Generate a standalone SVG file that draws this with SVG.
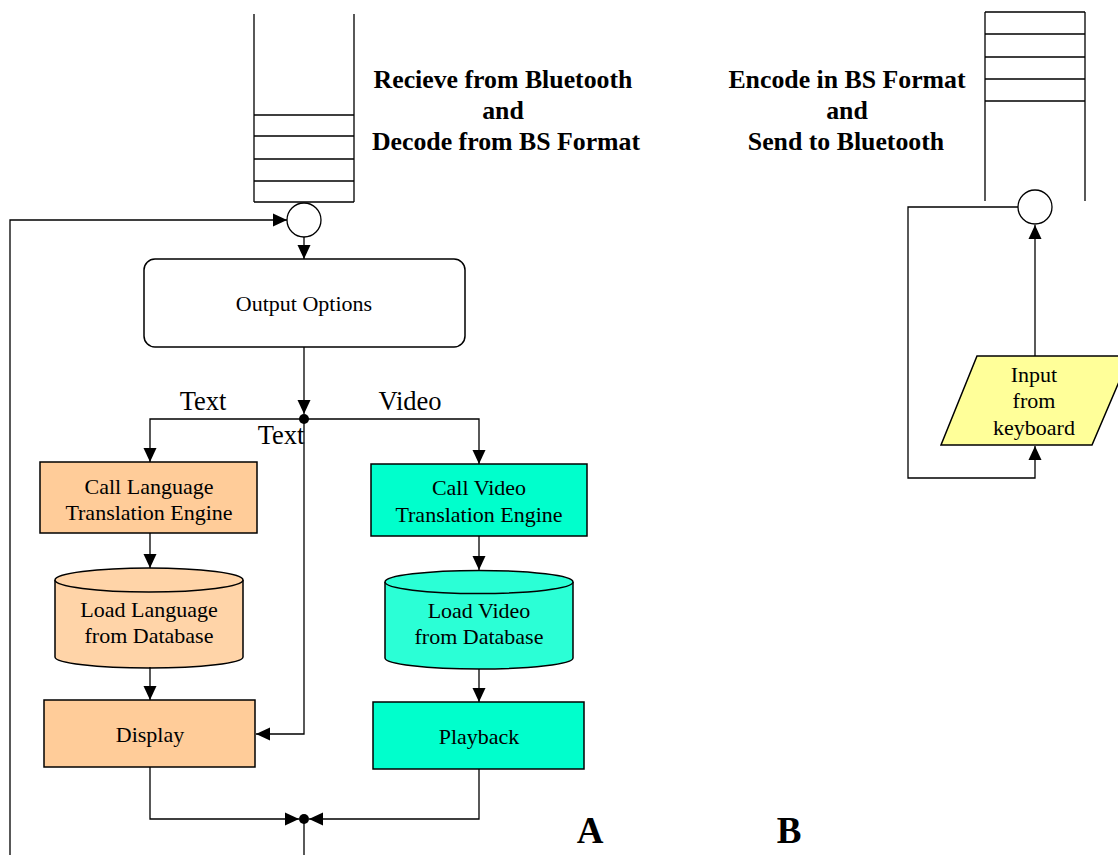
<svg xmlns="http://www.w3.org/2000/svg" width="1118" height="855" viewBox="0 0 1118 855">
<style>
.ln{fill:none;stroke:#000;stroke-width:1.3}
.box{stroke:#000;stroke-width:1.5}
.t{font-family:"Liberation Serif","Times New Roman",serif;font-size:22px;text-anchor:middle;fill:#000}
.lb{font-family:"Liberation Serif","Times New Roman",serif;font-size:26.5px;text-anchor:middle;fill:#000}
.h{font-family:"Liberation Serif","Times New Roman",serif;font-size:25.8px;font-weight:bold;text-anchor:middle;fill:#000}
.big{font-family:"Liberation Serif","Times New Roman",serif;font-size:37px;font-weight:bold;text-anchor:middle;fill:#000}
</style>
<defs>
<marker id="ah" markerUnits="userSpaceOnUse" markerWidth="15" markerHeight="15" viewBox="0 0 15 15" refX="14" refY="7.5" orient="auto">
<path d="M0,1 L14,7.5 L0,14 Z" fill="#000"/>
</marker>
</defs>
<rect width="1118" height="855" fill="#fff"/>

<g id="stackA">
<path class="ln" d="M254,14 V202 M354,14 V202 M254,115 H354 M254,136 H354 M254,159 H354 M254,181 H354 M254,202 H354"/>
</g>
<g id="mergeA">
<circle cx="304" cy="220" r="17" fill="#fff" stroke="#000" stroke-width="1.3"/>
</g>
<g id="headerA">
<text class="h" x="503" y="88">Recieve from Bluetooth</text>
<text class="h" x="503" y="119">and</text>
<text class="h" x="506" y="150">Decode from BS Format</text>
</g>
<g id="headerB">
<text class="h" x="847" y="88">Encode in BS Format</text>
<text class="h" x="847" y="119">and</text>
<text class="h" x="846" y="150">Send to Bluetooth</text>
</g>
<g id="stackB">
<path class="ln" d="M985,12 V201 M1085,12 V201 M985,12 H1085 M985,34 H1085 M985,57 H1085 M985,79 H1085 M985,101 H1085"/>
</g>
<g id="mergeB">
<circle cx="1035" cy="207" r="17" fill="#fff" stroke="#000" stroke-width="1.3"/>
</g>

<g id="outputOptions">
<rect x="144" y="259" width="321" height="88" rx="11" fill="#fff" class="box"/>
<text class="t" x="304" y="311">Output Options</text>
</g>
<g id="callLanguage">
<rect x="40" y="462" width="217" height="71" fill="#FFCC99" class="box"/>
<text class="t" x="149" y="494">Call Language</text>
<text class="t" x="149" y="520">Translation Engine</text>
</g>
<g id="loadLanguage">
<path d="M55,580 V657 A94,11 0 0 0 243,657 V580" fill="#FFD4A8" class="box"/>
<ellipse cx="149" cy="580" rx="94" ry="12" fill="#FFD4A8" class="box"/>
<text class="t" x="149" y="617">Load Language</text>
<text class="t" x="149" y="643">from Database</text>
</g>
<g id="display">
<rect x="44" y="700" width="211" height="67" fill="#FFCC99" class="box"/>
<text class="t" x="150" y="742">Display</text>
</g>
<g id="callVideo">
<rect x="371" y="464" width="216" height="72" fill="#00FFCC" class="box"/>
<text class="t" x="479" y="495">Call Video</text>
<text class="t" x="479" y="522">Translation Engine</text>
</g>
<g id="loadVideo">
<path d="M385,582 V658 A94,11 0 0 0 573,658 V582" fill="#2BFFD6" class="box"/>
<ellipse cx="479" cy="582" rx="94" ry="11.5" fill="#2BFFD6" class="box"/>
<text class="t" x="479" y="618">Load Video</text>
<text class="t" x="479" y="644">from Database</text>
</g>
<g id="playback">
<rect x="373" y="702" width="211" height="67" fill="#00FFCC" class="box"/>
<text class="t" x="479" y="744">Playback</text>
</g>
<g id="inputKeyboard">
<polygon points="977,356 1130,356 1092,445 941,445" fill="#FFFF99" class="box"/>
<text class="t" x="1034" y="382">Input</text>
<text class="t" x="1034" y="408">from</text>
<text class="t" x="1034" y="435">keyboard</text>
</g>

<g id="connectors">
<path class="ln" d="M10,855 V220 H287" marker-end="url(#ah)"/>
<path class="ln" d="M304,237 V259" marker-end="url(#ah)"/>
<path class="ln" d="M304,347 V414" marker-end="url(#ah)"/>
<path class="ln" d="M304,419 H150 V462" marker-end="url(#ah)"/>
<path class="ln" d="M304,419 H479 V464" marker-end="url(#ah)"/>
<path class="ln" d="M304,419 V734 H256" marker-end="url(#ah)"/>
<path class="ln" d="M150,533 V568" marker-end="url(#ah)"/>
<path class="ln" d="M150,667 V700" marker-end="url(#ah)"/>
<path class="ln" d="M479,536 V570" marker-end="url(#ah)"/>
<path class="ln" d="M479,669 V702" marker-end="url(#ah)"/>
<path class="ln" d="M150,767 V819 H299" marker-end="url(#ah)"/>
<path class="ln" d="M479,769 V819 H309" marker-end="url(#ah)"/>
<path class="ln" d="M304,819 V855"/>
<circle cx="304" cy="419" r="5" fill="#000"/>
<circle cx="304" cy="819" r="5" fill="#000"/>
<path class="ln" d="M1018,207 H908 V478 H1035 V446" marker-end="url(#ah)"/>
<path class="ln" d="M1035,356 V225" marker-end="url(#ah)"/>
<text class="lb" x="203" y="410">Text</text>
<text class="lb" x="410" y="410">Video</text>
<text class="lb" x="281" y="444">Text</text>
</g>

<text class="big" x="590" y="843">A</text>
<text class="big" x="789" y="843">B</text>
</svg>
